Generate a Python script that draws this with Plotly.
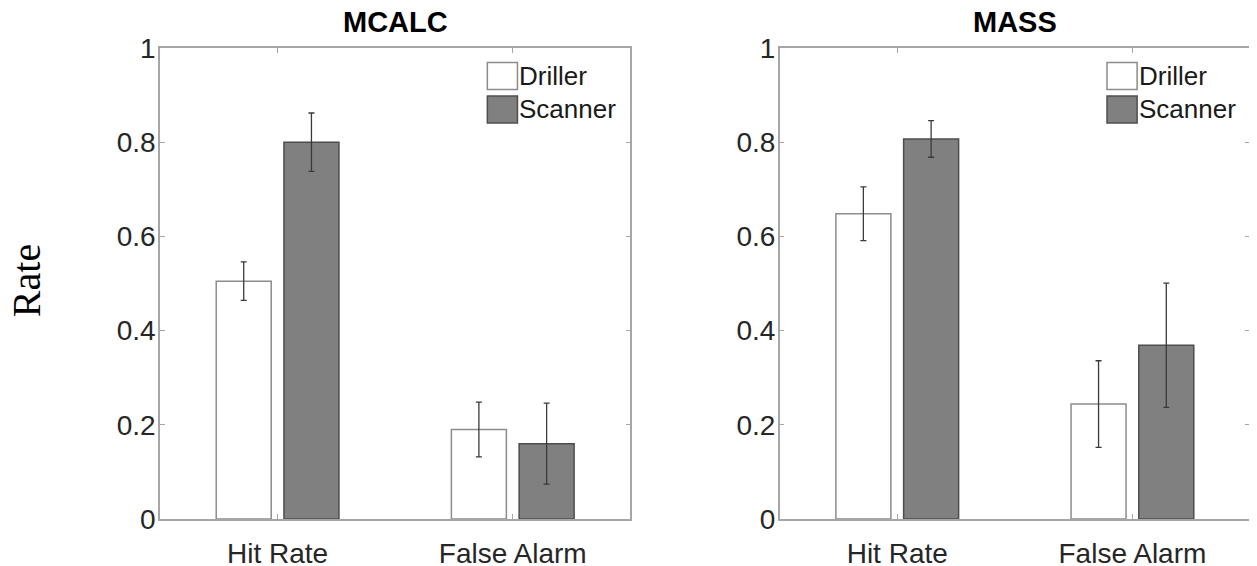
import plotly.graph_objects as go
from plotly.subplots import make_subplots

categories = ["Hit Rate", "False Alarm"]
panels = ["MCALC", "MASS"]
groups = ["Driller", "Scanner"]

mcalc_driller = [0.505, 0.190]
mcalc_driller_err = [0.041, 0.058]
mcalc_scanner = [0.800, 0.160]
mcalc_scanner_err = [0.062, 0.086]

mass_driller = [0.648, 0.244]
mass_driller_err = [0.057, 0.092]
mass_scanner = [0.807, 0.369]
mass_scanner_err = [0.039, 0.132]

y_ticks = [0, 0.2, 0.4, 0.6, 0.8, 1]
y_ticklabels = ["0", "0.2", "0.4", "0.6", "0.8", "1"]

data = {
    "MCALC": [(mcalc_driller, mcalc_driller_err), (mcalc_scanner, mcalc_scanner_err)],
    "MASS": [(mass_driller, mass_driller_err), (mass_scanner, mass_scanner_err)],
}

fills = {"Driller": "#ffffff", "Scanner": "#808080"}
edges = {"Driller": "#8c8c8c", "Scanner": "#4d4d4d"}

fig = make_subplots(rows=1, cols=2, horizontal_spacing=0.137,
                    subplot_titles=panels)

for c, panel in enumerate(panels, start=1):
    for g, (vals, errs) in zip(groups, data[panel]):
        fig.add_trace(go.Bar(
            x=categories, y=vals, name=g, showlegend=False,
            marker=dict(color=fills[g], line=dict(color=edges[g], width=1.5)),
            error_y=dict(type="data", array=errs, visible=True,
                         color="#3a3a3a", thickness=1.3, width=3),
        ), row=1, col=c)

axis_font = dict(family="Liberation Sans, Arial, sans-serif", size=28, color="#262626")
for c in (1, 2):
    fig.update_xaxes(range=[-0.5, 1.5], showline=True, linecolor="#a6a6a6",
                     linewidth=1.5, mirror="ticks", ticks="inside", ticklen=5,
                     tickcolor="#a6a6a6", tickfont=axis_font, showgrid=False,
                     ticklabelstandoff=9, automargin=False,
                     zeroline=False, row=1, col=c)
    fig.update_yaxes(range=[0, 1], tickvals=y_ticks, ticktext=y_ticklabels,
                     showline=True, linecolor="#a6a6a6", linewidth=1.5,
                     mirror="ticks", ticks="inside", ticklen=5,
                     tickcolor="#a6a6a6", tickfont=axis_font, showgrid=False,
                     ticklabelstandoff=-3, automargin=False,
                     zeroline=False, row=1, col=c)

# custom legends (MATLAB-like large swatches)
for c in (1, 2):
    xr = "x domain" if c == 1 else "x2 domain"
    yr = "y domain" if c == 1 else "y2 domain"
    swatch_y = [(0.912, 0.969), (0.841, 0.898)]
    for g, (y0, y1) in zip(groups, swatch_y):
        fig.add_shape(type="rect", xref=xr, yref=yr, x0=0.696, x1=0.760,
                      y0=y0, y1=y1, fillcolor=fills[g],
                      line=dict(color=edges[g], width=1.5))
        fig.add_annotation(xref=xr, yref=yr, x=0.760, y=(y0 + y1) / 2,
                           text=g, showarrow=False, xanchor="left",
                           yanchor="middle",
                           font=dict(family="Liberation Sans, Arial, sans-serif",
                                     size=26, color="#1a1a1a"))

for ann in fig.layout.annotations:
    if ann.text in panels:
        ann.font = dict(family="Liberation Sans, Arial, sans-serif", size=29,
                        color="#000000")
        ann.text = "<b>" + ann.text + "</b>"
        ann.yshift = 8

fig.add_annotation(xref="paper", yref="paper", x=-0.123, y=0.507,
                   text="Rate", textangle=-90, showarrow=False,
                   xanchor="center", yanchor="middle",
                   font=dict(family="Liberation Serif, Times New Roman, serif",
                             size=40, color="#000000"))

fig.update_layout(
    width=1249, height=558,
    margin=dict(l=152, r=7, t=40, b=47, autoexpand=False),
    barmode="group", bargap=0.424, bargroupgap=0.188,
    plot_bgcolor="#ffffff", paper_bgcolor="#ffffff",
    showlegend=False,
)

fig.write_html("out.html")
